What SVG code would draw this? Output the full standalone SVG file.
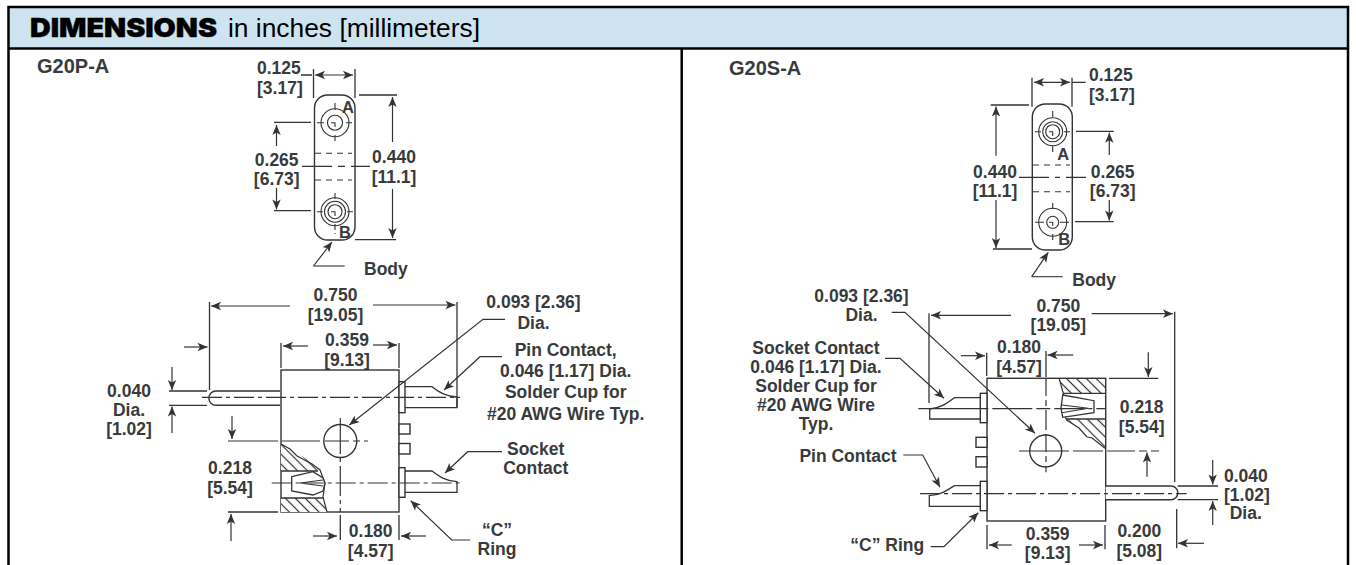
<svg xmlns="http://www.w3.org/2000/svg" width="1356" height="565" viewBox="0 0 1356 565">
<style>
.l{fill:none;stroke:#333;stroke-width:1.3}
.t{fill:none;stroke:#333;stroke-width:1.1}
.c{fill:none;stroke:#333;stroke-width:1.2;stroke-dasharray:20 4 4 4}
.d{fill:none;stroke:#333;stroke-width:1.1;stroke-dasharray:6 5}
.o{fill:#fff;stroke:#333;stroke-width:1.4}
.a{fill:none;stroke:#333;stroke-width:1.2;marker-end:url(#ah)}
text{font-family:"Liberation Sans",Arial,sans-serif;font-weight:700;font-size:17.5px;fill:#383a3c}
.m{text-anchor:middle}
.ab{font-size:16.5px}
.g{font-size:20px}
.hd{fill:#000}
</style>
<defs>
<marker id="ah" markerUnits="userSpaceOnUse" markerWidth="14" markerHeight="10" refX="11" refY="5" orient="auto-start-reverse">
<path d="M11,5 L1,0.8 L3.5,5 L1,9.2 Z" fill="#333"/>
</marker>
<pattern id="hp" patternUnits="userSpaceOnUse" width="7" height="7" patternTransform="rotate(-45)">
<rect width="7" height="7" fill="#fff"/>
<line x1="3.5" y1="0" x2="3.5" y2="7" stroke="#333" stroke-width="1.2"/>
</pattern>
</defs>
<rect width="1356" height="565" fill="#fff"/>
<g id="frame">
<rect x="8.5" y="7" width="1339.5" height="41.5" fill="#cde4f0"/>
<path d="M8.5,565 V7 H1348 V565" fill="none" stroke="#000" stroke-width="2.5"/>
<path d="M8.5,48.5 H1348" fill="none" stroke="#000" stroke-width="2.5"/>
<path d="M681.7,48.5 V565" fill="none" stroke="#000" stroke-width="2.5"/>
<text x="30" y="36.7" class="hd" style="font-family:Inter,'Liberation Sans',sans-serif;font-weight:900;font-size:26px;stroke:#000;stroke-width:0.4" textLength="187" lengthAdjust="spacingAndGlyphs">DIMENSIONS</text>
<text x="228" y="36.7" class="hd" style="font-weight:400;font-size:25.5px" textLength="252" lengthAdjust="spacingAndGlyphs">in inches [millimeters]</text>
</g>

<g id="g20p-top">
<rect class="o" x="314.5" y="95" width="40.5" height="145" rx="13"/>
<circle class="t" cx="335" cy="122.7" r="14"/>
<circle class="t" cx="335" cy="122.7" r="7.5"/>
<path class="t" d="M335,103 V110 M335,135 V141 M317,122.7 H324 M346,122.7 H352 M331,122.7 H335 V127"/>
<circle class="t" cx="335" cy="211.7" r="14"/>
<circle class="t" cx="335" cy="211.7" r="10.5"/>
<circle class="t" cx="335" cy="211.7" r="7"/>
<path class="t" d="M335,193 V199 M335,224 V230 M317,211.7 H323 M347,211.7 H353 M331,211.7 H335 V216 M335,233 V234"/>
<path class="d" d="M315,153.3 H352 M315,180 H352"/>
</g>

<g id="g20p-side">
<rect class="o" x="281" y="370" width="118" height="142"/>
<path class="o" d="M280,391 H216 A7,7 0 0 0 216,405.3 H280"/>
<rect class="o" x="399" y="381.7" width="6" height="31"/>
<path class="l" d="M405,386.7 H432 C440,393 446,396 457,397 V407.6 H405"/>
<rect class="o" x="399" y="424" width="11" height="10"/>
<rect class="o" x="399" y="443.5" width="11" height="10.5"/>
<rect class="o" x="399" y="467.7" width="6" height="29.6"/>
<path class="l" d="M405,471 H432 C440,477 446,481 457,481.7 V492.3 H405"/>
<circle class="o" cx="340.3" cy="441" r="16.5"/>
<path d="M281,444 L297,453 L320,468 L317,471 H281 Z" fill="url(#hp)"/>
<path d="M281,498 H323 L327,512 H281 Z" fill="url(#hp)"/>
<path d="M281,444 L290,449 L297,456 L312,464 L320,470 L325,483 L323,497 L327,512" fill="none" stroke="#333" stroke-width="1.2"/>
<path class="l" d="M281,471 H318 M281,498 H323"/>
<path class="l" d="M291.7,476.7 L313,471.7 L323,478 L325,483 L323,491 L313,495 L291.7,491 Z" style="fill:#fff"/>
<path class="t" d="M300,483 L323,480 M300,483 L323,486"/>
<path class="c" d="M202,397.3 H460"/>
<path class="c" d="M271.7,483 H462"/>
<path class="c" d="M228,441 H368" style="stroke-dasharray:50 4 38 5 24 4 7 4"/>
<path class="c" d="M340.3,418 V512" style="stroke-dasharray:36 4 4 4 30 4 4 4"/>
</g>

<g id="g20s-top">
<rect class="o" x="1032.3" y="104" width="40" height="146" rx="13"/>
<circle class="t" cx="1052.7" cy="131.7" r="14"/>
<circle class="t" cx="1052.7" cy="131.7" r="10"/>
<circle class="t" cx="1052.7" cy="131.7" r="7"/>
<path class="t" d="M1052.7,111 V117 M1052.7,146 V152 M1035,131.7 H1041 M1064,131.7 H1070 M1049,131.7 H1052.7 V136"/>
<circle class="t" cx="1052.7" cy="222.3" r="14"/>
<circle class="t" cx="1052.7" cy="222.3" r="6"/>
<path class="t" d="M1052.7,203 V209 M1052.7,234 V240 M1035,222.3 H1044 M1060,222.3 H1069 M1049,222.3 H1052.7 V226"/>
<path class="d" d="M1033,165 H1070 M1033,191.7 H1070"/>
</g>

<g id="g20s-side">
<rect class="o" x="987" y="378.3" width="118.7" height="142.7"/>
<path class="o" d="M1105.7,486 H1171 A6.8,6.8 0 0 1 1171,499.7 H1105.7"/>
<rect class="o" x="980.3" y="393.3" width="6.7" height="29.4"/>
<path class="l" d="M980,397.7 H954.3 C946,404 940,408 929.7,409 V419 H980"/>
<rect class="o" x="976" y="437.3" width="11" height="10"/>
<rect class="o" x="976" y="456.7" width="11" height="10.3"/>
<rect class="o" x="980.3" y="481.3" width="6.7" height="29.4"/>
<path class="l" d="M980,485.7 H954.3 C946,491 940,495 929.3,495.7 V506.3 H980"/>
<circle class="o" cx="1045.7" cy="451" r="16"/>
<path d="M1059.3,379 H1105 V393.3 H1063.3 Z" fill="url(#hp)"/>
<path d="M1066.7,419 H1105 V448.3 L1090,438.3 Z" fill="url(#hp)"/>
<path d="M1059.3,379 L1063.3,393.3 L1061.7,410 L1066.7,420 L1079,428 L1087,437 L1092,438 L1105,448.3" fill="none" stroke="#333" stroke-width="1.2"/>
<path class="l" d="M1063,393.3 H1105 M1066,419 H1105"/>
<path class="l" d="M1062.7,395 L1094,400.7 V412.7 L1062.7,417.3 L1061,408 Z" style="fill:#fff"/>
<path class="t" d="M1061.7,405 L1088.3,408.3 L1061.7,412.7"/>
<path class="c" d="M918.3,408.7 H1105" style="stroke-dasharray:70 4 40 4 14 4 30 4 4 4"/>
<path class="c" d="M920,493.7 H1186.7"/>
<path class="c" d="M1019,451 H1159" style="stroke-dasharray:50 4 30 4 28 4 8 4"/>
<path class="c" d="M1046,378 V472.3" style="stroke-dasharray:18 4 6 4 20 4"/>
</g>

<g id="connectors">
<path class="l" d="M313.5,69 V98 M355,69 V98 M301,75 H312"/>
<path class="a" style="marker-start:url(#ah)" d="M315,75 H353"/>
<path class="l" d="M359,95 H397 M355,239.7 H396"/>
<path class="a" d="M392.5,142 V97"/>
<path class="a" d="M392.5,189 V238"/>
<path class="l" d="M274,122.3 H311 M274,210.7 H311"/>
<path class="a" d="M276.5,146 V125"/>
<path class="a" d="M276.5,188 V209.5"/>
<path class="c" d="M302,166.3 H370" style="stroke-dasharray:30 6 7 6"/>
<path class="t" d="M344.7,266 H313.5"/>
<path class="a" d="M313.5,266 L332,242"/>
<path class="l" d="M209.5,302 V390 M457,302 V407 M281,343 V368 M399,343 V368"/>
<path class="a" d="M290,306 H211"/>
<path class="a" d="M373,305 H455.5"/>
<path class="a" d="M308,346 H283"/>
<path class="a" d="M373,345 H397"/>
<path class="a" d="M184,347 H207.5"/>
<path class="l" d="M169,391 H207 M169,405.3 H207"/>
<path class="a" d="M172,367 V390"/>
<path class="a" d="M172,433 V406.5"/>
<path class="l" d="M228,512 H278 M340.3,515 V540 M399,515 V540"/>
<path class="a" d="M232,416 V439"/>
<path class="a" d="M231,541 V514"/>
<path class="a" d="M313,536 H337"/>
<path class="a" d="M426,536 H401"/>
<path class="a" d="M505,319.3 H483 L349.3,425"/>
<path class="a" d="M502,356.7 H480 L444,390"/>
<path class="a" d="M502,451.7 H467.7 L445,473"/>
<path class="a" d="M470,540 H451.7 L410.7,500.7"/>
<path class="l" d="M1032,77.7 V106.7 M1072,77.7 V106.7 M1072,82.3 H1085.7"/>
<path class="a" style="marker-start:url(#ah)" d="M1034,82.3 H1070"/>
<path class="l" d="M990.7,105 H1029 M993,249 H1032"/>
<path class="a" d="M996,155.7 V106.5"/>
<path class="a" d="M996,200 V248"/>
<path class="l" d="M1076,131.3 H1113.7 M1075,221.7 H1113.7"/>
<path class="a" d="M1109.3,155 V132.8"/>
<path class="a" d="M1109.3,200 V220.5"/>
<path class="c" d="M1019,177.3 H1086" style="stroke-dasharray:30 6 5 6"/>
<path class="t" d="M1062.7,276.7 H1031.7"/>
<path class="a" d="M1031.7,276.7 L1048.3,252.3"/>
<path class="l" d="M929,313.3 V403 M1174.7,311.7 V482 M986.7,352.7 V376 M1046,351 V377"/>
<path class="a" d="M1011,315.3 H931"/>
<path class="a" d="M1091.7,313.7 H1173"/>
<path class="a" d="M961,355.7 H985"/>
<path class="a" d="M1073.3,355 H1047.5"/>
<path class="l" d="M1109,378.3 H1158.3"/>
<path class="a" d="M1148.3,352.3 V377"/>
<path class="a" d="M1147,476.7 V452.5"/>
<path class="l" d="M1177.7,486 H1218 M1177.7,499.7 H1218"/>
<path class="a" d="M1212.7,460 V484.5"/>
<path class="a" d="M1212.7,525 V501"/>
<path class="l" d="M987,525 V549.3 M1105,525 V549.3 M1176.7,509 V548.3"/>
<path class="a" d="M1011.7,545 H989"/>
<path class="a" d="M1079,545 H1103"/>
<path class="a" d="M1204,543.3 H1178"/>
<path class="a" d="M891.7,312.3 H905 L1035,433.3"/>
<path class="a" d="M885,358.3 H900 L944,398.3"/>
<path class="a" d="M903.3,455 H922.7 L940,487.3"/>
<path class="a" d="M930.7,546.7 H944 L978.3,512.7"/>
</g>

<g id="labels-g20p">
<text x="37" y="73" class="g">G20P-A</text>
<text x="257" y="74">0.125</text><text x="257" y="93.5">[3.17]</text>
<text x="342" y="113" class="ab">A</text><text x="339" y="237.7" class="ab">B</text>
<text x="276.7" y="165.7" class="m">0.265</text><text x="276.7" y="185" class="m">[6.73]</text>
<text x="394" y="163" class="m">0.440</text><text x="394" y="183" class="m">[11.1]</text>
<text x="364" y="275">Body</text>
<text x="335.5" y="300.7" class="m">0.750</text><text x="335.5" y="321" class="m">[19.05]</text>
<text x="347" y="346" class="m">0.359</text><text x="347" y="366" class="m">[9.13]</text>
<text x="129" y="397" class="m">0.040</text><text x="129" y="416" class="m">Dia.</text><text x="129" y="435" class="m">[1.02]</text>
<text x="230" y="474" class="m">0.218</text><text x="230" y="494" class="m">[5.54]</text>
<text x="370.7" y="536.7" class="m">0.180</text><text x="370.7" y="556.7" class="m">[4.57]</text>
<text x="533.5" y="308.3" class="m">0.093 [2.36]</text><text x="533.5" y="329.3" class="m">Dia.</text>
<text x="565.7" y="356" class="m">Pin Contact,</text><text x="565.7" y="377.3" class="m">0.046 [1.17] Dia.</text><text x="565.7" y="398.3" class="m">Solder Cup for</text><text x="565.7" y="420" class="m">#20 AWG Wire Typ.</text>
<text x="535.7" y="455" class="m">Socket</text><text x="535.7" y="474" class="m">Contact</text>
<text x="497" y="535.7" class="m">“C”</text><text x="497" y="555" class="m">Ring</text>
</g>
<g id="labels-g20s">
<text x="729" y="75" class="g">G20S-A</text>
<text x="1089" y="81">0.125</text><text x="1089" y="101">[3.17]</text>
<text x="1057.3" y="160" class="ab">A</text><text x="1058.3" y="245" class="ab">B</text>
<text x="995" y="177.7" class="m">0.440</text><text x="995" y="196.7" class="m">[11.1]</text>
<text x="1112.7" y="178" class="m">0.265</text><text x="1112.7" y="197" class="m">[6.73]</text>
<text x="1072.3" y="285.7">Body</text>
<text x="1058.3" y="311.7" class="m">0.750</text><text x="1058.3" y="331" class="m">[19.05]</text>
<text x="1019" y="353.3" class="m">0.180</text><text x="1019" y="372.7" class="m">[4.57]</text>
<text x="1141.7" y="413.3" class="m">0.218</text><text x="1141.7" y="433.3" class="m">[5.54]</text>
<text x="1224" y="481.7">0.040</text><text x="1224" y="501">[1.02]</text><text x="1245.8" y="519.3" class="m">Dia.</text>
<text x="1047.7" y="540" class="m">0.359</text><text x="1047.7" y="559.3" class="m">[9.13]</text>
<text x="1139.3" y="537.3" class="m">0.200</text><text x="1139.3" y="557.3" class="m">[5.08]</text>
<text x="861.5" y="301.7" class="m">0.093 [2.36]</text><text x="861.5" y="320.7" class="m">Dia.</text>
<text x="816" y="354" class="m">Socket Contact</text><text x="816" y="372.7" class="m">0.046 [1.17] Dia.</text><text x="816" y="391.7" class="m">Solder Cup for</text><text x="816" y="410.7" class="m">#20 AWG Wire</text><text x="816" y="429.5" class="m">Typ.</text>
<text x="848" y="461.7" class="m">Pin Contact</text>
<text x="887.3" y="550.7" class="m">“C” Ring</text>
</g>
</svg>
